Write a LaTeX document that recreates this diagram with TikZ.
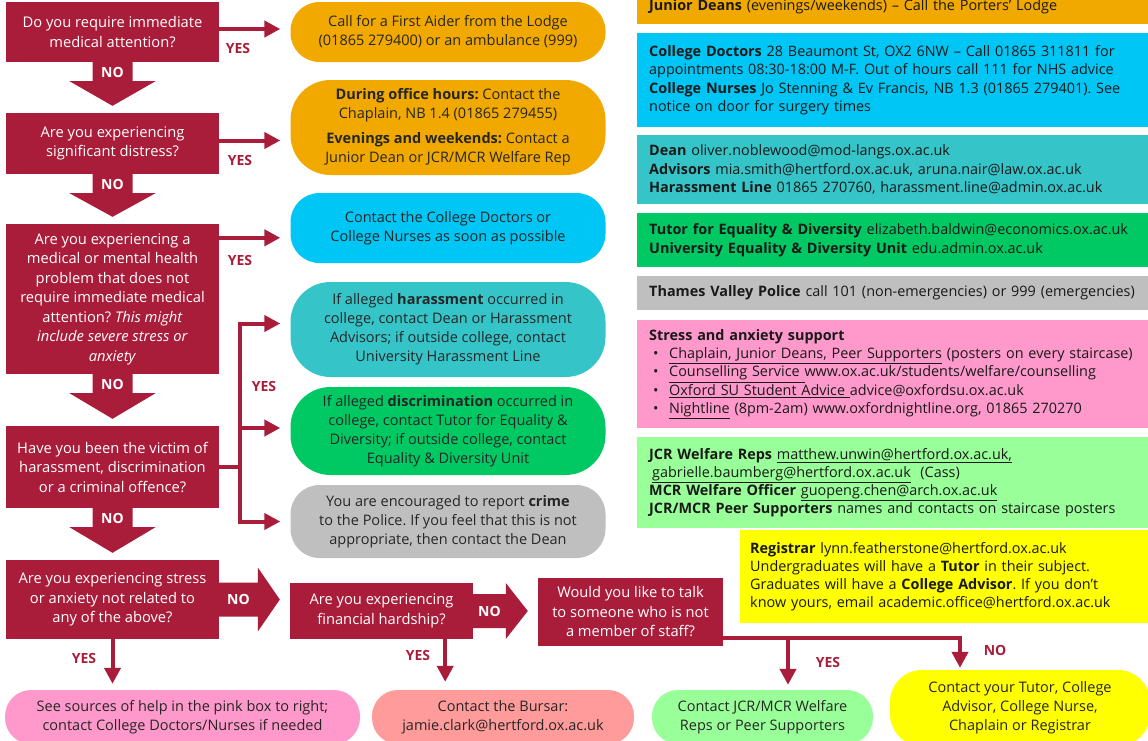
\documentclass[tikz,border=0pt]{standalone}
\usepackage{fontspec}
\setmainfont{Open Sans}
\usepackage{tikz}
\usetikzlibrary{arrows.meta, calc, positioning}
\frenchspacing

\definecolor{WelfareRed}{HTML}{A91D3A}
\definecolor{UrgentOrange}{HTML}{F1A900}
\definecolor{DoctorBlue}{HTML}{00C6F5}
\definecolor{HarassTeal}{HTML}{35C5C9}
\definecolor{EqualGreen}{HTML}{00C964}
\definecolor{PoliceGrey}{HTML}{BFBFBF}
\definecolor{StressPink}{HTML}{FF99CC}
\definecolor{PeerGreen}{HTML}{99FF99}
\definecolor{TutorYellow}{HTML}{FFFF00}
\definecolor{BursarSalmon}{HTML}{FF9B9B}

\tikzset{
  questionbox/.style={rectangle, fill=WelfareRed, text=white, minimum width=213pt, inner sep=2pt, align=center, font=\fontsize{14.7pt}{19.5pt}\selectfont},
  helpbox/.style={rectangle, rounded corners=29pt, minimum width=315pt, inner sep=2pt, align=center, text=black!85, font=\fontsize{14.5pt}{19pt}\selectfont},
  infobox/.style={rectangle, anchor=north west, inner xsep=12pt, inner ysep=2pt, text width=500pt, align=left, text=black!90, font=\fontsize{14.4pt}{18.3pt}\selectfont},
  yesarrow/.style={WelfareRed, line width=4pt, -{Triangle[length=16pt,width=16pt]}, shorten >=10pt},
  yesline/.style={WelfareRed, line width=4pt},
  yeslabel/.style={text=WelfareRed, font=\fontsize{14pt}{14pt}\selectfont\bfseries},
  nolabel/.style={text=white, font=\fontsize{14pt}{14pt}\selectfont\bfseries}
}

% block arrow down from one question to the next
\newcommand{\noarrowdown}[2]{%
  \fill[WelfareRed] let \p1=(#1.south), \p2=(#2.north) in
    (\x1-20pt,\y1+1pt) -- (\x1+20pt,\y1+1pt) -- (\x1+20pt,\y1-19pt) -- (\x1+43pt,\y1-19pt)
    -- (\x1,\y2+7pt) -- (\x1-43pt,\y1-19pt) -- (\x1-20pt,\y1-19pt) -- cycle
    node[nolabel] at (\x1,\y1-10pt) {NO};}
% block arrow to the right
\newcommand{\noarrowright}[3][32pt]{%
  \fill[WelfareRed] let \p1=(#2.east), \p2=(#3.west) in
    (\x1-1pt,\y1+17pt) -- (\x2-32pt,\y1+17pt) -- (\x2-32pt,\y1+#1) -- (\x2-10pt,\y1)
    -- (\x2-32pt,\y1-#1) -- (\x2-32pt,\y1-17pt) -- (\x1-1pt,\y1-17pt) -- cycle
    node[nolabel] at ({(\x1+\x2-32pt)/2},\y1) {NO};}

\begin{document}
\begin{tikzpicture}[x=1pt, y=-1pt]
  \useasboundingbox (0,0) rectangle (1148,740);
  \clip (0,0) rectangle (1148,740);

  % Questions
  \node[questionbox, minimum height=60pt] (q1) at (112.5,32) {Do you require immediate\\medical attention?};
  \node[questionbox, minimum height=61pt] (q2) at (112.5,143.5) {Are you experiencing\\significant distress?};
  \node[questionbox, minimum height=150pt] (q3) at (112.5,299) {Are you experiencing a\\medical or mental health\\problem that does not\\require immediate medical\\attention? \textit{This might}\\\textit{include severe stress or}\\\textit{anxiety}};
  \node[questionbox, minimum height=82pt] (q4) at (112.5,467) {Have you been the victim of\\harassment, discrimination\\or a criminal offence?};
  \node[questionbox, minimum height=79pt] (q5) at (112.5,599.5) {Are you experiencing stress\\or anxiety not related to\\any of the above?};
  \node[questionbox, minimum width=183pt, minimum height=56pt] (q6) at (381.5,611) {Are you experiencing\\financial hardship?};
  \node[questionbox, minimum width=185pt, minimum height=68pt] (q7) at (630.5,612) {Would you like to talk\\to someone who is not\\a member of staff?};

  % Where to go
  \node[helpbox, fill=UrgentOrange, minimum height=60pt] (firstaid) at (448,32) {Call for a First Aider from the Lodge\\(01865 279400) or an ambulance (999)};
  \node[helpbox, fill=UrgentOrange, minimum height=95pt, rounded corners=40pt] (chaplain) at (448,127.5) {\textbf{During office hours:} Contact the\\Chaplain, NB 1.4 (01865 279455)\\[6pt]\textbf{Evenings and weekends:} Contact a\\Junior Dean or JCR/MCR Welfare Rep};
  \node[helpbox, fill=DoctorBlue, minimum height=70pt] (doctors) at (448,228) {Contact the College Doctors or\\College Nurses as soon as possible};
  \node[helpbox, fill=HarassTeal, minimum height=95pt, rounded corners=40pt] (harassment) at (448,329.5) {If alleged \textbf{harassment} occurred in\\college, contact Dean or Harassment\\Advisors; if outside college, contact\\University Harassment Line};
  \node[helpbox, fill=EqualGreen, minimum height=88pt, rounded corners=40pt] (discrimination) at (448,431) {If alleged \textbf{discrimination} occurred in\\college, contact Tutor for Equality \&\\Diversity; if outside college, contact\\Equality \& Diversity Unit};
  \node[helpbox, fill=PoliceGrey, minimum height=73pt] (crime) at (448,521.5) {You are encouraged to report \textbf{crime}\\to the Police. If you feel that this is not\\appropriate, then contact the Dean};

  \node[helpbox, fill=StressPink, minimum width=355pt, minimum height=54pt, rounded corners=26pt] (seehelp) at (182.5,717) {See sources of help in the pink box to right;\\contact College Doctors/Nurses if needed};
  \node[helpbox, fill=BursarSalmon, minimum width=262pt, minimum height=54pt, rounded corners=26pt] (bursar) at (503,717) {Contact the Bursar:\\jamie.clark@hertford.ox.ac.uk};
  \node[helpbox, fill=PeerGreen, minimum width=221pt, minimum height=54pt, rounded corners=26pt] (peerreps) at (762.5,717) {Contact JCR/MCR Welfare\\Reps or Peer Supporters};
  \node[helpbox, fill=TutorYellow, minimum width=260pt, minimum height=76pt, rounded corners=32pt] (tutorcontact) at (1020,708) {Contact your Tutor, College\\Advisor, College Nurse,\\Chaplain or Registrar};

  % Contact details
  \node[infobox, fill=UrgentOrange, minimum height=34pt] (juniordeans) at (637,-10) {\textbf{Junior Deans} (evenings/weekends) – Call the Porters’ Lodge};
  \node[infobox, fill=DoctorBlue, minimum height=94pt] (doctorsinfo) at (637,33) {\textbf{College Doctors} 28 Beaumont St, OX2 6NW – Call 01865 311811 for\\appointments 08:30-18:00 M-F. Out of hours call 111 for NHS advice\\\textbf{College Nurses} Jo Stenning \& Ev Francis, NB 1.3 (01865 279401). See\\notice on door for surgery times};
  \node[infobox, fill=HarassTeal, minimum height=69pt] (deaninfo) at (637,135) {\textbf{Dean} oliver.noblewood@mod-langs.ox.ac.uk\\\textbf{Advisors} mia.smith@hertford.ox.ac.uk, aruna.nair@law.ox.ac.uk\\\textbf{Harassment Line} 01865 270760, harassment.line@admin.ox.ac.uk};
  \node[infobox, fill=EqualGreen, minimum height=54pt] (equalityinfo) at (637,213) {\textbf{Tutor for Equality \& Diversity} elizabeth.baldwin@economics.ox.ac.uk\\\textbf{University Equality \& Diversity Unit} edu.admin.ox.ac.uk};
  \node[infobox, fill=PoliceGrey, minimum height=34pt] (policeinfo) at (637,276) {\textbf{Thames Valley Police} call 101 (non-emergencies) or 999 (emergencies)};
  \node[infobox, fill=StressPink, minimum height=108pt] (stressinfo) at (637,320) {\textbf{Stress and anxiety support}\\
    \hspace*{4pt}\makebox[16pt][l]{•}\underline{Chaplain, Junior Deans, Peer Supporters} (posters on every staircase)\\
    \hspace*{4pt}\makebox[16pt][l]{•}\underline{Counselling Service\ }www.ox.ac.uk/students/welfare/counselling\\
    \hspace*{4pt}\makebox[16pt][l]{•}\underline{Oxford SU Student Advice\ }advice@oxfordsu.ox.ac.uk\\
    \hspace*{4pt}\makebox[16pt][l]{•}\underline{Nightline} (8pm-2am) www.oxfordnightline.org, 01865 270270};
  \node[infobox, fill=PeerGreen, minimum height=91pt] (welfareinfo) at (637,437) {\textbf{JCR Welfare Reps} \underline{matthew.unwin@hertford.ox.ac.uk,}\\
    \hspace*{3pt}\underline{gabrielle.baumberg@hertford.ox.ac.uk}\ \ (Cass)\\
    \textbf{MCR Welfare Officer} \underline{guopeng.chen@arch.ox.ac.uk}\\
    \textbf{JCR/MCR Peer Supporters} names and contacts on staircase posters};
  \node[infobox, fill=TutorYellow, minimum height=93pt, inner xsep=10pt, text width=400pt] (registrarinfo) at (740,530) {\textbf{Registrar} lynn.featherstone@hertford.ox.ac.uk\\Undergraduates will have a \textbf{Tutor} in their subject.\\Graduates will have a \textbf{College Advisor}. If you don’t\\know yours, email academic.office@hertford.ox.ac.uk};

  % NO block arrows
  \noarrowdown{q1}{q2}
  \noarrowdown{q2}{q3}
  \noarrowdown{q3}{q4}
  \noarrowdown{q4}{q5}
  \noarrowright{q5}{q6}
  \noarrowright[28pt]{q6}{q7}

  % YES connectors
  \coordinate (q1yes) at ([yshift=3pt]q1.east);
  \draw[yesarrow] (q1yes) -- (q1yes -| firstaid.west);
  \node[yeslabel] (yes1) at (238,48) {YES};
  \coordinate (q2yes) at ([yshift=3pt]q2.east);
  \draw[yesarrow] (q2yes) -- (q2yes -| chaplain.west);
  \node[yeslabel] (yes2) at (240,160) {YES};
  \coordinate (q3yes) at ([yshift=-14pt]q3.north east);
  \draw[yesarrow] (q3yes) -- (q3yes -| doctors.west);
  \node[yeslabel] (yes3) at (240,260) {YES};

  \coordinate (vsplit) at ($(q4.east)+(21,0)$);
  \draw[yesline] (q4.east) -- (vsplit);
  \draw[yesarrow] (vsplit) |- ([yshift=6pt]harassment.west);
  \draw[yesarrow] (vsplit) |- ([yshift=3pt]discrimination.west);
  \draw[yesarrow] (vsplit) |- (crime.west);
  \node[yeslabel] (yes4) at (264,386) {YES};

  \draw[yesarrow, shorten >=6pt] (q5.south) -- (q5.south |- seehelp.north);
  \node[yeslabel] (yes5) at (84,658) {YES};
  \coordinate (q6drop) at ($(q6.south east)+(-28,0)$);
  \draw[yesarrow, shorten >=8pt] (q6drop) -- (q6drop |- bursar.north);
  \node[yeslabel] (yes6) at (418,655) {YES};

  \coordinate (q7bar) at ([yshift=-26pt]q7.east);
  \coordinate (yesdrop) at (788,638);
  \coordinate (nodrop) at (960,638);
  \draw[yesarrow, shorten >=2pt] (q7bar) -| (nodrop |- tutorcontact.north);
  \draw[yesarrow, shorten >=5pt] (yesdrop) -- (yesdrop |- peerreps.north);
  \node[yeslabel] (yes7) at (828,662) {YES};
  \node[yeslabel] (no7) at (995,650) {NO};
\end{tikzpicture}
\end{document}
